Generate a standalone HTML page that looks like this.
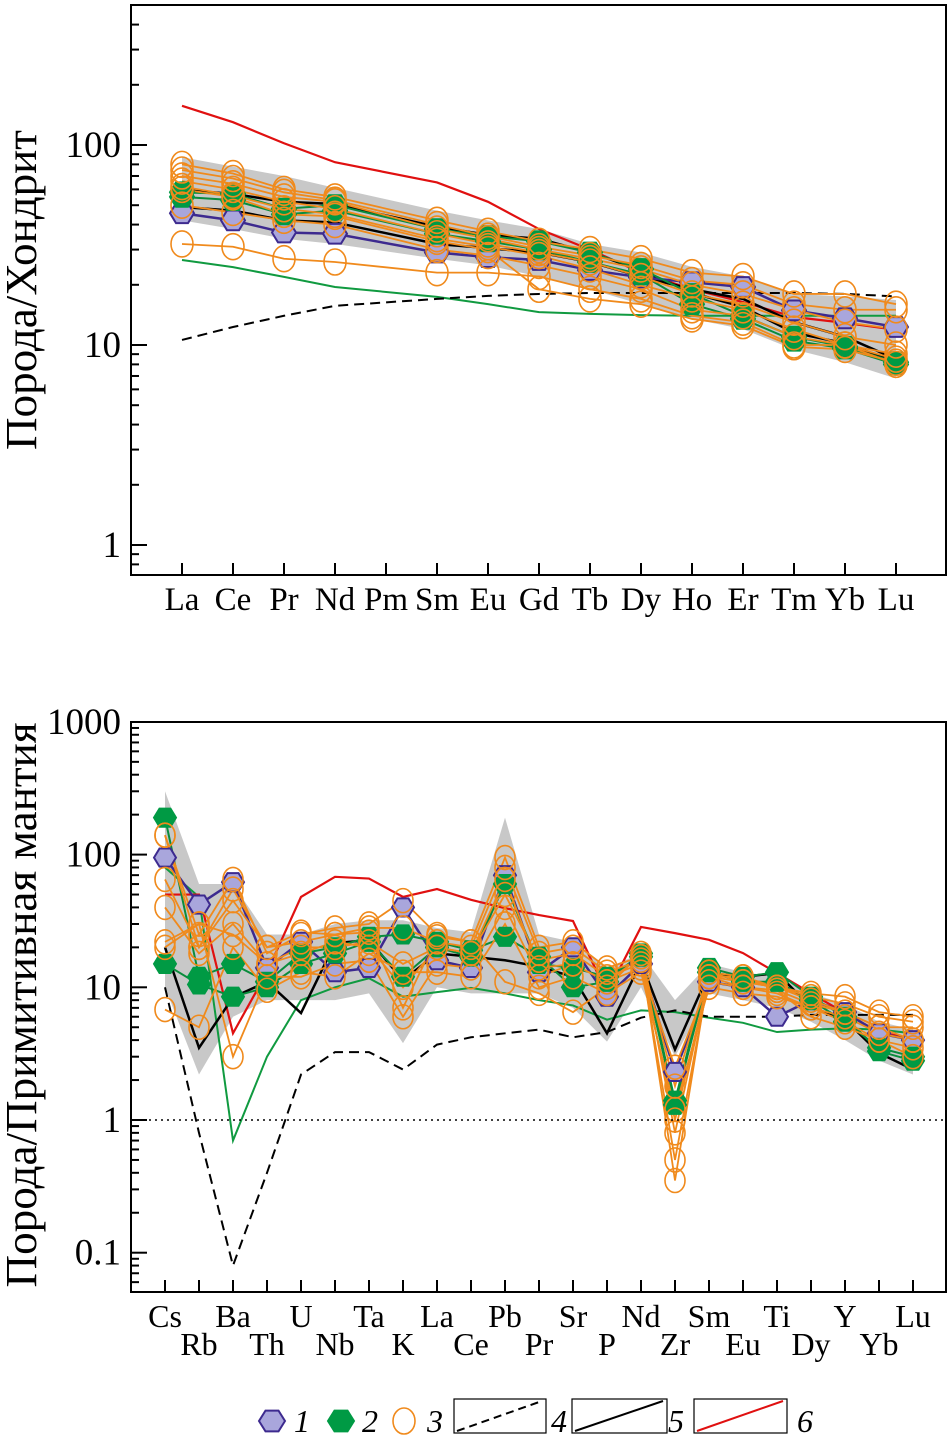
<!DOCTYPE html>
<html><head><meta charset="utf-8">
<style>
html,body{margin:0;padding:0;background:#fff;}
svg{display:block;font-family:"Liberation Serif",serif;}
</style></head>
<body>
<svg id="chart" width="950" height="1442" viewBox="0 0 950 1442" xmlns="http://www.w3.org/2000/svg">
<g id="top"></g>
<g id="bot"></g>
<g id="legend"></g>
</svg>
<script>
// ---------- Top chart data (chondrite-normalized REE) ----------
const reeCats = ["La","Ce","Pr","Nd","Pm","Sm","Eu","Gd","Tb","Dy","Ho","Er","Tm","Yb","Lu"];
const reeTicks = [1,10,100];
const reeBandHi = [87,78,70,61,null,47,42,38,32,29,24.6,22,18,17.5,16.8];
const reeBandLo = [42,38,34,32,null,27,25,22,19,16,13.5,12,9.5,8.2,6.8];
const reeRed = [157,130,102,82,null,65,52,38,30,23,19,16.4,13.8,12.9,11.9];
const reeGreen = [26.6,24.5,21.9,19.5,null,17.4,16,14.6,14.3,14.1,14,14,14,14,14];
const reeDashed = [10.6,12.3,14,15.7,null,17,17.6,18,18.2,18.2,18.2,18.2,18.2,18,17.5];
const reeBlackA = [59.6,57,52,50.7,null,39,35.5,34,29,23.7,18.2,15.5,11.5,10.2,8.2];
const reeBlackB = [49,47,42,41,null,32,30.5,29,26,22,19,17,13,11,8.5];
const reePurple = [45.6,42,36.5,36,null,29,27.5,26.6,23.7,21.8,20.6,19.5,14.9,13.6,12.3];
const reeGreenA = [58,57,48,50,null,38,35,33,29,24,18,14,11,9.8,8.2];
const reeGreenB = [55,53,45,47,null,36,33,30,26,22.5,16,13.5,10.5,9.6,8];
const reeOr1 = [80,72,60,55,null,42,37,33,30,27,23,22,18,18,16];
const reeOr2 = [75,68,58,53,null,40,35,31,28,25,21,20,16,15,15];
const reeOr3 = [70,64,55,52,null,38,34,30,27,24,20,18,15,13,12];
const reeOr4 = [66,60,52,48,null,36,32,29,26,22,18,16,13,11,10];
const reeOr5 = [62,56,48,45,null,34,31,28,24,20,17,15,12,10,8.5];
const reeOr6 = [50,46,42,40,null,30,28,25,22,19,15,14,11,10,8];
const reeOr7 = [32,31,27,26,null,23,23,22,19,17,14,13,10,10,9];
const reeOr8 = [60,55,45,44,null,33,30,19,17,16,13.5,12.5,9.8,9.5,8.2];

// ---------- Bottom chart data (primitive-mantle normalized) ----------
const pmCats = ["Cs","Rb","Ba","Th","U","Nb","Ta","K","La","Ce","Pb","Pr","Sr","P","Nd","Zr","Sm","Eu","Ti","Dy","Y","Yb","Lu"];
const pmTicks = [0.1,1,10,100,1000];
const pmBandHi = [300,60,60,25,25,30,32,32,28,26,190,25,22,14,18,8,15,13,12,9,7.5,5.5,4.8];
const pmBandLo = [10,2.2,6,8,8,8,9,3.8,10,9,9,9,7,3.9,10,3,9,8,7,5.5,4,2.8,2.2];
const pmRed = [50,50,4.5,13,48,68,66,48,55,45.6,39.5,35,31.6,9,28.5,25.6,22.8,18.1,12.8,9,6.4,4.6,4.1];
const pmGreen = [80,48,0.7,3,8,10,11.7,8.5,9.2,9.9,9,8,7.3,5.7,6.7,6.5,5.9,5.4,4.6,4.8,4.9,4.8,4.5];
const pmDashed = [10,0.8,0.08,0.4,2.2,3.25,3.25,2.4,3.7,4.2,4.5,4.8,4.2,4.6,5.9,6.7,6,6,6,6.2,6.2,6.2,6.2];
const pmBlack = [20,3.5,8.4,11,6.4,21.5,22.7,11.3,18,17,16,14.3,12,4.5,15.5,3.4,12.8,12,12.8,7.1,5.7,3.2,2.4];
const pmPurple = [95,42,62,14,22,13,14,40,16,14,70,13,20,8.5,15,2.3,11,10,6,8,6.5,4.5,4];
const pmGreenA = [190,12,15,11,18,20,24,25,22,19,24,17,10,11,18,1.4,14,12,13,8.5,6,3.3,2.8];
const pmGreenB = [15,10.5,8.5,10,15,18,22,12,20,17,60,15,14,12,17,1.3,13,11,11,8,5.5,3.5,3];
const pmOr1 = [140,25,65,18,25,28,30,45,25,22,95,20,22,14,17,0.35,13,12,10,9,8.5,6.5,6];
const pmOr2 = [65,20,55,20,22,25,28,28,22,20,80,18,20,13,16,0.5,12,11,10,8.5,7.5,6,5.5];
const pmOr3 = [40,18,30,15,20,20,22,15,20,18,50,16,18,12,15,1.0,12,10,9.5,7.5,6.5,5,5];
const pmOr4 = [22,30,3.0,12,12,15,16,6,15,14,40,12,15,11,14,2.5,11,10,9,7,6,4.5,4];
const pmOr5 = [6.8,5,20,9.5,13,12,18,13,13,12,30,10,12,9,13,1.2,10,9,8.5,7,5.5,4,3.5];
const pmOr6 = [140,20,45,20,26,25,26,7,24,22,11,9,6.5,10,18,0.8,12,12,9.5,6,5,4,3];
const pmOr7 = [20,30,25,15,18,22,20,10,20,18,65,14,15,11,17,1.8,13,11,10,8,6.5,5,4];

const NS="http://www.w3.org/2000/svg";
function mk(parent,tag,attrs){const e=document.createElementNS(NS,tag);for(const k in attrs)e.setAttribute(k,attrs[k]);parent.appendChild(e);return e;}

function drawChart(g,cfg){
  const {x0,x1,y0,y1,xFirst,xStep,yDec,yOne,cats,ticks}=cfg;
  const X=i=>xFirst+i*xStep;
  const Y=v=>yOne-yDec*Math.log10(v);
  const hi=cfg.band[0],lo=cfg.band[1];
  let pts=[];
  hi.forEach((v,i)=>{if(v!=null)pts.push(X(i)+","+Y(v));});
  for(let i=lo.length-1;i>=0;i--){if(lo[i]!=null)pts.push(X(i)+","+Y(lo[i]));}
  const band=mk(g,"polygon",{points:pts.join(" "),fill:"#c8c8c8",stroke:"none"});
  
  
  function line(arr,stroke,w,dash,name){
    const p=[];arr.forEach((v,i)=>{if(v!=null)p.push(X(i)+","+Y(v));});
    const e=mk(g,"polyline",{points:p.join(" "),fill:"none",stroke:stroke,"stroke-width":w,"stroke-dasharray":dash||"none","stroke-linejoin":"miter"});
    
    
  }
  line(cfg.green,"#109a40",2,null,"green-reference-line");
  line(cfg.dashed,"#000",2,"10,6","reference-line-4");
  line(cfg.red,"#e01010",2.2,null,"reference-line-6");
  cfg.blacks.forEach(b=>line(b,"#000",2.5,null,"reference-line-5"));
  cfg.purple.forEach(s=>line(s,"#3d2a8f",2.5,null,"sample-1-line"));
  cfg.greens.forEach(s=>line(s,"#0a8c3c",2,null,"sample-2-line"));
  cfg.oranges.forEach(s=>line(s,"#f08a1c",1.8,null,"sample-3-line"));
  function hex(cx,cy,r,fill,stroke,name){
    const p=[];for(let k=0;k<6;k++){const a=Math.PI/3*k;p.push((cx+r*Math.cos(a)).toFixed(1)+","+(cy+r*0.95*Math.sin(a)).toFixed(1));}
    const e=mk(g,"polygon",{points:p.join(" "),fill:fill,stroke:stroke,"stroke-width":2});
    
    
  }
  cfg.purple.forEach(s=>s.forEach((v,i)=>{if(v!=null)hex(X(i),Y(v),cfg.mr,"#a9a6dc","#3d2a8f","sample-1-marker");}));
  cfg.greens.forEach(s=>s.forEach((v,i)=>{if(v!=null)hex(X(i),Y(v),cfg.mr,"#009a44","#009a44","sample-2-marker");}));
  cfg.oranges.forEach(s=>s.forEach((v,i)=>{if(v!=null){
    const c=mk(g,"ellipse",{cx:X(i),cy:Y(v),rx:cfg.mr-1,ry:cfg.mr+1,fill:"none",stroke:"#f08a1c","stroke-width":1.6});
    
    
  }}));
  const fr=mk(g,"rect",{x:x0,y:y0,width:x1-x0,height:y1-y0,fill:"none",stroke:"#000","stroke-width":2});
  
  
  const lmin=Math.log10(ticks[0])-1,lmax=Math.log10(ticks[ticks.length-1])+1;
  for(let d=Math.floor(lmin);d<=lmax;d++){
    for(let m=1;m<10;m++){
      const v=m*Math.pow(10,d),y=Y(v);
      if(y<y0+1||y>y1-1)continue;
      mk(g,"line",{x1:x0,x2:x0+(m===1?16:8),y1:y,y2:y,stroke:"#000","stroke-width":2});
    }
  }
  ticks.forEach(t=>{
    const tx=mk(g,"text",{x:x0-10,y:Y(t)+12,"text-anchor":"end","font-size":37});
    tx.textContent=String(t);
    
    
  });
  const gap=cfg.rowGap||0;
  cats.forEach((c,i)=>{
    mk(g,"line",{x1:X(i),x2:X(i),y1:y1,y2:y1-12,stroke:"#000","stroke-width":2});
    const row=cfg.twoRow?(i%2):0;
    const tx=mk(g,"text",{x:X(i),y:cfg.labY+row*gap,"text-anchor":"middle","font-size":cfg.labSize});
    tx.textContent=c;
    
    
  });
  const yt=mk(g,"text",{x:0,y:0,"text-anchor":"middle","font-size":44,textLength:cfg.titleLen,lengthAdjust:"spacingAndGlyphs",transform:`translate(${cfg.titleX},${cfg.titleY}) rotate(-90)`});
  yt.textContent=cfg.title;
  
  
  if(cfg.oneLine){
    const d=mk(g,"line",{x1:x0,x2:x1,y1:Y(1),y2:Y(1),stroke:"#000","stroke-width":1.5,"stroke-dasharray":"2,4"});
    
    
  }
}

drawChart(document.getElementById("top"),{
  x0:131,x1:946,y0:5,y1:575,xFirst:182,xStep:51,yDec:200,yOne:545,cats:reeCats,ticks:reeTicks,
  band:[reeBandHi,reeBandLo],red:reeRed,green:reeGreen,dashed:reeDashed,blacks:[reeBlackA,reeBlackB],
  purple:[reePurple],greens:[reeGreenA,reeGreenB],
  oranges:[reeOr1,reeOr2,reeOr3,reeOr4,reeOr5,reeOr6,reeOr7,reeOr8],
  mr:12,labY:610,labSize:33,twoRow:false,rowGap:0,title:"Порода/Хондрит",titleX:36,titleY:290,titleLen:320,oneLine:false
});
drawChart(document.getElementById("bot"),{
  x0:131,x1:946,y0:722,y1:1292,xFirst:165,xStep:34,yDec:132.7,yOne:1120,cats:pmCats,ticks:pmTicks,
  band:[pmBandHi,pmBandLo],red:pmRed,green:pmGreen,dashed:pmDashed,blacks:[pmBlack],
  purple:[pmPurple],greens:[pmGreenA,pmGreenB],
  oranges:[pmOr1,pmOr2,pmOr3,pmOr4,pmOr5,pmOr6,pmOr7],
  mr:11,labY:1327,labSize:32,twoRow:true,rowGap:28,title:"Порода/Примитивная мантия",titleX:36,titleY:1005,titleLen:565,oneLine:true
});

(function(){
  const g=document.getElementById("legend");
  const p=[];for(let k=0;k<6;k++){const a=Math.PI/3*k;p.push((272+13*Math.cos(a)).toFixed(1)+","+(1421+12*Math.sin(a)).toFixed(1));}
  const h1=mk(g,"polygon",{points:p.join(" "),fill:"#a9a6dc",stroke:"#3d2a8f","stroke-width":2});
  
  
  const p2=[];for(let k=0;k<6;k++){const a=Math.PI/3*k;p2.push((341+13*Math.cos(a)).toFixed(1)+","+(1421+12*Math.sin(a)).toFixed(1));}
  const h2=mk(g,"polygon",{points:p2.join(" "),fill:"#009a44",stroke:"#009a44","stroke-width":2});
  
  
  const c=mk(g,"ellipse",{cx:404,cy:1421,rx:11,ry:13,fill:"none",stroke:"#f08a1c","stroke-width":1.6});
  
  
  const boxes=[[454,546,"#000","8,5"],[572,667,"#000",null],[694,787,"#e01010",null]];
  boxes.forEach((b,i)=>{
    const r=mk(g,"rect",{x:b[0],y:1399,width:b[1]-b[0],height:34,fill:"none",stroke:"#000","stroke-width":1.2});
    
    
    mk(g,"line",{x1:b[0]+3,y1:1431,x2:b[1]-4,y2:1401,stroke:b[2],"stroke-width":2,"stroke-dasharray":b[3]||"none"});
  });
  const labs=[[302,"1"],[370,"2"],[435,"3"],[559,"4"],[676,"5"],[805,"6"]];
  labs.forEach(l=>{
    const t=mk(g,"text",{x:l[0],y:1432,"text-anchor":"middle","font-size":32,"font-style":"italic"});
    t.textContent=l[1];
    
    
  });
})();
</script>
</body></html>
